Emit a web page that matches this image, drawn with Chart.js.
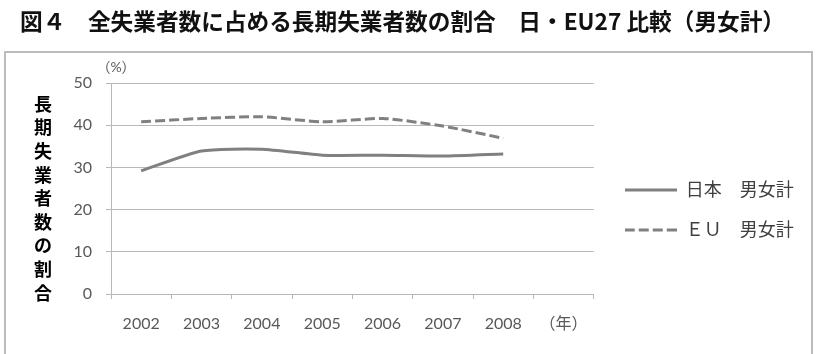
<!DOCTYPE html>
<html>
<head>
<meta charset="utf-8">
<script src="https://cdn.jsdelivr.net/npm/chart.js@4"></script>
<style>
html,body{margin:0;padding:0;background:#fff;}
#wrap{width:819px;height:354px;position:relative;}
</style>
</head>
<body>
<div id="wrap"><canvas id="c" width="819" height="354"></canvas></div>
<script>
const years = ['2002','2003','2004','2005','2006','2007','2008','（年）'];
const japanValues = [29.2, 33.9, 34.3, 32.9, 32.9, 32.7, 33.2];
const euValues = [40.8, 41.6, 42.0, 40.8, 41.6, 39.8, 36.9];
const seriesNames = ['日本　男女計', 'ＥＵ　男女計'];
const titleText = '図４　全失業者数に占める長期失業者数の割合　日・EU27 比較（男女計）';
const yTitleText = '長期失業者数の割合';
const yUnitText = '（%）';

const LINE = '#808080';
const GRID = '#b8b8b8';
const TICK = '#595959';
const FONT = "Lato, 'Noto Sans CJK JP', sans-serif";
const DASH = [10, 4];

function legendImage(dash) {
  const cv = document.createElement('canvas');
  cv.width = 52; cv.height = 4;
  const g = cv.getContext('2d');
  g.strokeStyle = LINE; g.lineWidth = 3;
  g.setLineDash(dash);
  g.beginPath(); g.moveTo(0, 2); g.lineTo(52, 2); g.stroke();
  return cv;
}
const legendImgs = [legendImage([]), legendImage(DASH)];

const decor = {
  id: 'decor',
  afterLayout(chart) {
    const lg = chart.legend;
    if (lg) { lg.left += 9; lg.right += 9; lg.top += 43; lg.bottom += 43; }
  },
  beforeDraw(chart) {
    const ctx = chart.ctx;
    ctx.save();
    ctx.strokeStyle = '#bcbcbc';
    ctx.lineWidth = 2;
    ctx.strokeRect(5, 52, 807, 320);
    ctx.restore();
  },
  afterDraw(chart) {
    const ctx = chart.ctx;
    ctx.save();
    ctx.fillStyle = '#000';
    ctx.font = "bold 18px 'Noto Sans CJK JP'";
    ctx.textAlign = 'center';
    ctx.textBaseline = 'middle';
    Array.from(yTitleText).forEach((ch, i) => ctx.fillText(ch, 43, 104 + i * 23.6));
    ctx.fillStyle = TICK;
    ctx.font = "14px " + FONT;
    ctx.fillText(yUnitText, 116, 67);
    ctx.restore();
  }
};

new Chart(document.getElementById('c'), {
  type: 'line',
  data: {
    labels: years,
    datasets: [
      { label: seriesNames[0], data: japanValues, borderColor: LINE, backgroundColor: LINE,
        borderWidth: 3, pointRadius: 0, tension: 0.2, fill: false },
      { label: seriesNames[1], data: euValues, borderColor: LINE, backgroundColor: LINE,
        borderWidth: 3, borderDash: DASH, pointRadius: 0, tension: 0.2, fill: false }
    ]
  },
  options: {
    responsive: false,
    animation: false,
    layout: { padding: { left: 20, right: 34, top: 0, bottom: 20 } },
    plugins: {
      title: {
        display: true, text: titleText, align: 'start', color: '#111',
        font: { family: "'Noto Sans CJK JP'", size: 23, weight: 'bold', lineHeight: 1.2 },
        padding: { top: 7, bottom: 48.4 }
      },
      legend: {
        position: 'right', align: 'center',
        labels: {
          usePointStyle: true, pointStyleWidth: 52,
          padding: 22, color: '#404040',
          font: { family: FONT, size: 18 },
          generateLabels(chart) {
            const items = Chart.defaults.plugins.legend.labels.generateLabels(chart);
            items.forEach((it, i) => { it.pointStyle = legendImgs[i]; });
            return items;
          }
        }
      },
      tooltip: { enabled: false }
    },
    scales: {
      x: {
        offset: true,
        grid: { display: true, drawOnChartArea: false, drawTicks: true, tickLength: 5, offset: true, color: GRID },
        border: { display: true, color: GRID, width: 1 },
        ticks: { color: TICK, font: { family: FONT, size: 16 }, padding: 15, maxRotation: 0, autoSkip: false },
        afterFit(s) { s.height = 40; }
      },
      y: {
        min: 0, max: 50,
        grid: { color: GRID, lineWidth: 1, drawTicks: true, tickLength: 5 },
        border: { display: true, color: GRID, width: 1 },
        ticks: { stepSize: 10, color: TICK, font: { family: FONT, size: 16 }, padding: 14 },
        afterFit(s) { s.width = 91; }
      }
    }
  },
  plugins: [decor]
});
</script>
</body>
</html>
